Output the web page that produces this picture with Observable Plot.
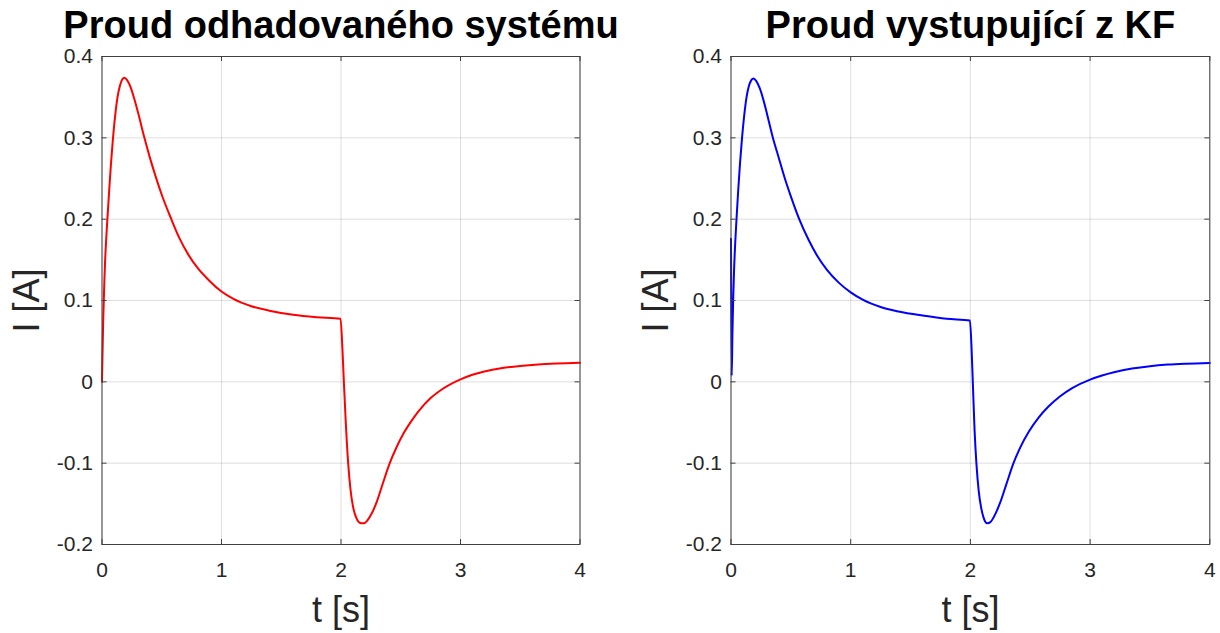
<!DOCTYPE html>
<html>
<head>
<meta charset="utf-8">
<script src="https://cdn.jsdelivr.net/npm/d3@7"></script>
<script src="https://cdn.jsdelivr.net/npm/@observablehq/plot@0.6"></script>
<style>
  html, body { margin: 0; padding: 0; background: #fff; }
  #wrap { display: flex; width: 1220px; height: 633px; }
  #wrap svg { overflow: visible; }
</style>
</head>
<body>
<div id="wrap"></div>
<script>
const titles = ["Proud odhadovaného systému", "Proud vystupující z KF"];
const xLabel = "t [s]";
const yLabel = "I [A]";
const xTicks = [0, 1, 2, 3, 4];
const yTicks = [-0.2, -0.1, 0, 0.1, 0.2, 0.3, 0.4];

const tLeft = [0, 0.005, 0.01, 0.015, 0.02, 0.025, 0.035, 0.045, 0.06, 0.075, 0.09, 0.11, 0.13, 0.15, 0.17, 0.188,
  0.21, 0.24, 0.27, 0.30, 0.355, 0.40, 0.45, 0.50, 0.58, 0.65, 0.72, 0.80, 0.90, 1.0, 1.1, 1.25, 1.4, 1.6, 1.8, 1.996,
  2.012, 2.024, 2.04, 2.06, 2.08, 2.10, 2.13, 2.16, 2.19, 2.22, 2.26, 2.303, 2.35, 2.408, 2.46, 2.525, 2.59, 2.65, 2.75, 2.85, 3.0, 3.1, 3.2, 3.35, 3.5, 3.65, 3.8, 4.0];
const iLeft = [0, 0.04, 0.075, 0.10, 0.125, 0.145, 0.175, 0.20, 0.235, 0.268, 0.296, 0.327, 0.350, 0.364, 0.372, 0.374,
  0.371, 0.362, 0.348, 0.332, 0.30, 0.276, 0.252, 0.230, 0.200, 0.176, 0.157, 0.140, 0.124, 0.111, 0.102, 0.093, 0.0875, 0.0825, 0.0795, 0.0775,
  0.04, 0.0, -0.05, -0.10, -0.133, -0.153, -0.168, -0.1735, -0.174, -0.1705, -0.161, -0.146, -0.125, -0.10, -0.082, -0.063, -0.048, -0.036, -0.020, -0.0088, 0.003, 0.0087, 0.0128, 0.017, 0.0196, 0.0214, 0.0225, 0.0234];

const tRight = [0, 0.006, 0.012, 0.018, 0.025, 0.035, 0.046, 0.06, 0.075, 0.09, 0.11, 0.13, 0.15, 0.17, 0.188,
  0.21, 0.24, 0.27, 0.30, 0.35, 0.40, 0.45, 0.50, 0.57, 0.65, 0.72, 0.80, 0.90, 1.0, 1.1, 1.25, 1.4, 1.6, 1.8, 1.996,
  2.01, 2.02, 2.035, 2.05, 2.07, 2.09, 2.11, 2.14, 2.17, 2.21, 2.25, 2.30, 2.36, 2.42, 2.49, 2.57, 2.65, 2.75, 2.85, 3.0, 3.1, 3.2, 3.35, 3.5, 3.65, 3.8, 4.0];
const iRight = [0.176, 0.0076, 0.06, 0.10, 0.135, 0.170, 0.20, 0.235, 0.268, 0.296, 0.327, 0.350, 0.364, 0.371, 0.373,
  0.370, 0.361, 0.347, 0.330, 0.30, 0.275, 0.250, 0.228, 0.200, 0.174, 0.155, 0.138, 0.122, 0.110, 0.101, 0.092, 0.0865, 0.0815, 0.0775, 0.0755,
  0.04, 0.0, -0.06, -0.10, -0.135, -0.155, -0.167, -0.174, -0.172, -0.162, -0.148, -0.126, -0.10, -0.0796, -0.0607, -0.0439, -0.0307, -0.0177, -0.0077, 0.0028, 0.0078, 0.0118, 0.0163, 0.0193, 0.0212, 0.0223, 0.0232];

const colors = ["#ff0000", "#0000ff"];

function panel(t, vals, color, title, marginLeft, marginRight) {
  const data = t.map((d, k) => ({t: d, i: vals[k]}));
  const H = 633, mt = 56, mb = 89;
  const W = 610;
  const fh = H - mt - mb;
  const fw = W - marginLeft - marginRight;
  const tick = 5;
  const axisColor = "#404040";
  return Plot.plot({
    width: W,
    height: H,
    marginLeft, marginRight,
    marginTop: mt, marginBottom: mb,
    x: {domain: [0, 4]},
    y: {domain: [-0.2, 0.4]},
    style: {fontFamily: "'Liberation Sans', Arial, sans-serif", color: "#262626", background: "transparent", overflow: "visible"},
    marks: [
      Plot.gridX(xTicks, {stroke: "#262626", strokeOpacity: 0.15, strokeWidth: 1}),
      Plot.gridY(yTicks, {stroke: "#262626", strokeOpacity: 0.15, strokeWidth: 1}),
      Plot.line(data, {x: "t", y: "i", stroke: color, strokeWidth: 2, curve: "monotone-x"}),
      Plot.ruleX(xTicks, {x: d => d, insetTop: fh - tick, stroke: axisColor}),
      Plot.ruleX(xTicks, {x: d => d, insetBottom: fh - tick, stroke: axisColor}),
      Plot.ruleY(yTicks, {y: d => d, insetRight: fw - tick, stroke: axisColor}),
      Plot.ruleY(yTicks, {y: d => d, insetLeft: fw - tick, stroke: axisColor}),
      Plot.frame({stroke: axisColor, strokeWidth: 1}),
      Plot.axisX({ticks: xTicks, tickSize: 0, tickPadding: 18, fontSize: 21, label: null, tickFormat: d => String(d), fill: "#262626"}),
      Plot.axisY({ticks: yTicks, tickSize: 0, tickPadding: 9, fontSize: 21, label: null, tickFormat: d => String(d), fill: "#262626"}),
      Plot.text([title], {frameAnchor: "top", dy: -31, fontSize: 38, fontWeight: "bold", lineAnchor: "middle", textAnchor: "middle", fill: "#000"}),
      Plot.text([xLabel], {frameAnchor: "bottom", dy: 66, fontSize: 36, lineAnchor: "middle", textAnchor: "middle", fill: "#262626"}),
      Plot.text([yLabel], {frameAnchor: "left", dx: -75, rotate: -90, fontSize: 36, lineAnchor: "middle", textAnchor: "middle", fill: "#262626"})
    ]
  });
}

const wrap = document.getElementById("wrap");
wrap.appendChild(panel(tLeft, iLeft, colors[0], titles[0], 101.5, 30.5));
wrap.appendChild(panel(tRight, iRight, colors[1], titles[1], 120.5, 10.7));
</script>
</body>
</html>
